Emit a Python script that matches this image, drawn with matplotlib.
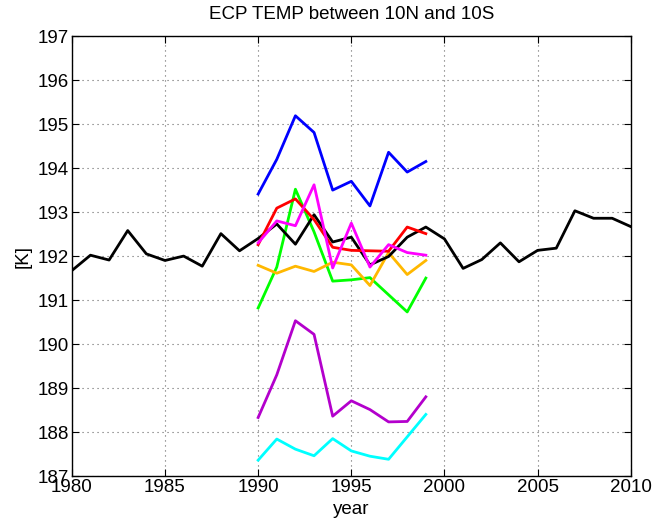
import numpy as np
import matplotlib
matplotlib.use("Agg")
import matplotlib.pyplot as plt

plt.rcParams["font.family"] = ["Liberation Sans", "DejaVu Sans"]

# full reanalysis record (black) and 1990-1999 members
years_long = list(range(1980, 2011))
temp_black = [191.67, 192.02, 191.91, 192.58, 192.05, 191.90, 192.00, 191.77,
              192.51, 192.12, 192.40, 192.73, 192.27, 192.94, 192.32, 192.43,
              191.80, 191.99, 192.43, 192.66, 192.39, 191.72, 191.92, 192.30,
              191.87, 192.13, 192.18, 193.03, 192.86, 192.86, 192.67]

years_short = list(range(1990, 2000))
temp_blue = [193.41, 194.20, 195.19, 194.81, 193.50, 193.70, 193.14, 194.36, 193.91, 194.15]
temp_red = [192.26, 193.09, 193.30, 192.83, 192.20, 192.13, 192.12, 192.11, 192.66, 192.51]
temp_green = [190.82, 191.75, 193.52, 192.55, 191.43, 191.46, 191.51, 191.12, 190.73, 191.50]
temp_magenta = [192.30, 192.80, 192.69, 193.62, 191.73, 192.75, 191.75, 192.26, 192.08, 192.02]
temp_orange = [191.79, 191.61, 191.77, 191.65, 191.86, 191.80, 191.33, 192.08, 191.58, 191.90]
temp_purple = [188.33, 189.30, 190.53, 190.22, 188.36, 188.71, 188.51, 188.23, 188.24, 188.80]
temp_cyan = [187.36, 187.84, 187.61, 187.46, 187.85, 187.57, 187.45, 187.38, 187.89, 188.40]

fig = plt.figure(figsize=(6.53, 5.24), dpi=100)
ax = fig.add_axes([0.110, 0.0916, 0.856, 0.8394])

lw = 2.0
ax.plot(years_short, temp_blue, color=(0, 0, 1), lw=lw)
ax.plot(years_short, temp_green, color=(0, 1, 0), lw=lw)
ax.plot(years_short, temp_orange, color=(1, 0.72, 0), lw=lw)
ax.plot(years_short, temp_purple, color=(0.7, 0, 0.8), lw=lw)
ax.plot(years_short, temp_cyan, color=(0, 1, 1), lw=lw)
ax.plot(years_long, temp_black, color="k", lw=lw)
ax.plot(years_short, temp_red, color=(1, 0, 0), lw=lw)
ax.plot(years_short, temp_magenta, color=(1, 0, 1), lw=lw)

ax.set_xlim(1980, 2010)
ax.set_ylim(187, 197)
ax.set_xticks(range(1980, 2011, 5))
ax.set_yticks(range(187, 198))
ax.tick_params(direction="in", top=True, right=True, labelsize=13.5,
               length=5, pad=2)
ax.grid(True, linestyle=(0, (1, 3.5)), color="0.4", lw=0.8)
for s in ax.spines.values():
    s.set_linewidth(1.0)

ax.set_title("ECP TEMP between 10N and 10S", fontsize=13.5, pad=12)
ax.set_xlabel("year", fontsize=13.5, labelpad=4)
ax.set_ylabel("[K]", fontsize=13.5, labelpad=4)

fig.savefig("out.png", dpi=100)
